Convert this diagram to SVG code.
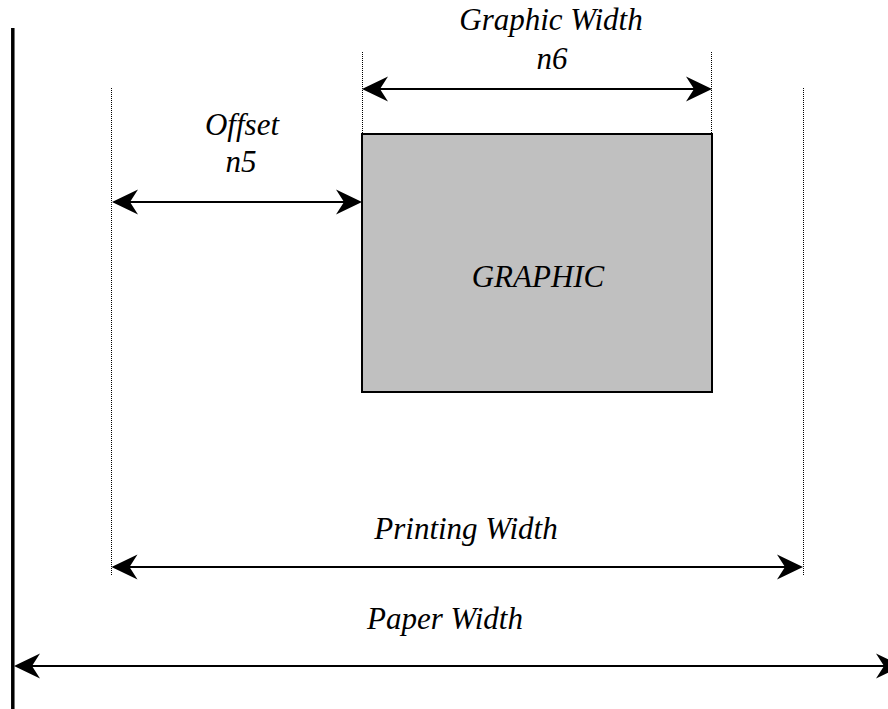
<svg xmlns="http://www.w3.org/2000/svg" width="888" height="709" viewBox="0 0 888 709">
<style>
text{font-family:"Liberation Serif","Times New Roman",serif;font-style:italic;font-size:31px;fill:#000;text-anchor:middle}
.dim{stroke:#000;stroke-width:2;fill:none;marker-start:url(#ah);marker-end:url(#ah)}
.guide{stroke:#000;stroke-width:1;stroke-dasharray:1 1;fill:none}
</style>
<defs>
<marker id="ah" markerUnits="userSpaceOnUse" viewBox="-27 -13 28 26" markerWidth="28" markerHeight="26" refX="-10" refY="0" orient="auto-start-reverse">
<path d="M0,0 L-26,-12.5 L-18,0 L-26,12.5 Z" fill="#000"/>
</marker>
</defs>
<rect width="888" height="709" fill="#fff"/>
<g id="paper-edge"><line x1="12.8" y1="28" x2="12.8" y2="709" stroke="#000" stroke-width="3.5"/></g>
<g id="guides">
<line class="guide" x1="111.5" y1="88" x2="111.5" y2="575"/>
<line class="guide" x1="803.5" y1="88" x2="803.5" y2="575"/>
<line class="guide" x1="362.5" y1="52" x2="362.5" y2="134"/>
<line class="guide" x1="711.5" y1="52" x2="711.5" y2="134"/>
</g>
<g id="graphic">
<rect x="362" y="134" width="350" height="258" fill="#c0c0c0" stroke="#000" stroke-width="2"/>
<text x="538" y="287">GRAPHIC</text>
</g>
<g id="connectors">
<line class="dim" x1="122" y1="202" x2="352" y2="202"/>
<line class="dim" x1="372" y1="89" x2="702" y2="89"/>
<line class="dim" x1="121.5" y1="567" x2="793" y2="567"/>
<line class="dim" x1="24" y1="666" x2="892" y2="666"/>
</g>
<g id="label-graphic-width"><text x="551" y="30">Graphic Width</text><text x="552" y="69">n6</text></g>
<g id="label-offset"><text x="242" y="135">Offset</text><text x="241" y="172">n5</text></g>
<g id="label-printing-width"><text x="466" y="539">Printing Width</text></g>
<g id="label-paper-width"><text x="445" y="629">Paper Width</text></g>
</svg>
